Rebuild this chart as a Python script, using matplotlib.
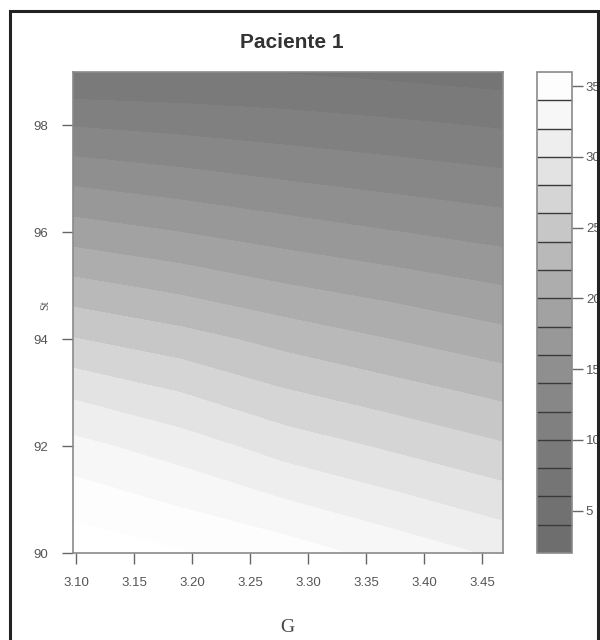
import numpy as np
import matplotlib
matplotlib.use("Agg")
import matplotlib.pyplot as plt
from matplotlib.patches import Rectangle

# ---- data ----
title = "Paciente 1"
x_label = "G"
y_label = "St"
g_values = [3.097, 3.19, 3.28, 3.37, 3.468]          # G (x) grid
st_values = [90, 91, 92, 93, 94, 95, 96, 97, 98, 99]  # St (y) grid
# z[row = St][col = G]
z_values = [
    [37.4, 36.2, 35.0, 33.3, 31.6],   # 90
    [35.1, 33.6, 32.0, 30.5, 28.9],   # 91
    [32.6, 31.0, 29.1, 27.7, 26.2],   # 92
    [29.6, 28.0, 26.2, 24.9, 23.5],   # 93
    [26.1, 24.8, 23.3, 22.0, 20.7],   # 94
    [22.6, 21.4, 20.1, 19.1, 18.0],   # 95
    [19.0, 18.0, 17.0, 16.1, 15.2],   # 96
    [15.5, 14.7, 13.9, 13.2, 12.5],   # 97
    [11.9, 11.4, 10.9, 10.4,  9.8],   # 98
    [ 8.0,  8.0,  7.9,  7.5,  7.0],   # 99
]
levels = list(range(2, 37, 2))
x_ticks = [3.10, 3.15, 3.20, 3.25, 3.30, 3.35, 3.40, 3.45]
y_ticks = [90, 92, 94, 96, 98]
cbar_ticks = [5, 10, 15, 20, 25, 30, 35]
band_colors = ["#6e6e6e", "#717171", "#757575", "#7a7a7a", "#808080", "#878787",
               "#8f8f8f", "#989898", "#a2a2a2", "#adadad", "#b9b9b9", "#c7c7c7",
               "#d5d5d5", "#e3e3e3", "#eeeeee", "#f7f7f7", "#fdfdfd"]

# ---- figure ----
W, H = 600, 640
fig = plt.figure(figsize=(W / 100, H / 100), dpi=100)
fig.patch.set_facecolor("white")

def frac(l, t, r, b):
    return [l / W, 1 - b / H, (r - l) / W, (b - t) / H]

ax = fig.add_axes(frac(73, 72, 503, 553))
X, Y = np.meshgrid(g_values, st_values)
cs = ax.contourf(X, Y, np.array(z_values), levels=levels, colors=band_colors)
ax.set_xlim(g_values[0], g_values[-1])
ax.set_ylim(st_values[0], st_values[-1])

tick_col = "#555555"
ax.set_xticks(x_ticks)
ax.set_xticklabels([f"{v:.2f}" for v in x_ticks])
ax.set_yticks(y_ticks)
ax.set_yticklabels([str(v) for v in y_ticks])
ax.tick_params(axis="both", direction="out", length=8, width=1, color="#666666",
               labelcolor=tick_col, labelsize=9.5)
ax.tick_params(axis="x", pad=9)
ax.tick_params(axis="y", pad=10)
for lab in ax.get_xticklabels() + ax.get_yticklabels():
    lab.set_family("Liberation Sans")
for sp in ax.spines.values():
    sp.set_color("#8a8a8a")
    sp.set_linewidth(1.2)

fig.text(292 / W, 1 - 43 / H, title, ha="center", va="center", fontsize=15,
         fontweight="bold", family="Liberation Sans", color="#333333")
fig.text(287 / W, 1 - 627 / H, x_label, ha="center", va="center", fontsize=14,
         family="Liberation Serif", color="#444444")
fig.text(45 / W, 1 - 305 / H, y_label, ha="center", va="center", fontsize=8.5,
         rotation=90, family="Liberation Serif", color="#555555")

# ---- colour key ----
cax = fig.add_axes(frac(537, 72, 572, 553))
cb = fig.colorbar(cs, cax=cax, drawedges=True)
cb.set_ticks(cbar_ticks)
cb.dividers.set_color("#3a3a3a")
cb.dividers.set_linewidth(1.0)
cb.outline.set_edgecolor("#8a8a8a")
cb.outline.set_linewidth(1.2)
cax.tick_params(direction="out", length=8, width=1, color="#666666",
                labelcolor=tick_col, labelsize=9.5, pad=2)
for lab in cax.get_yticklabels():
    lab.set_family("Liberation Sans")

# outer frame
fig.add_artist(Rectangle((10 / W, -0.05), (598 - 10) / W, (H - 11) / H + 0.05,
                         transform=fig.transFigure, fill=False, lw=2.2,
                         ec="#222222", clip_on=False))

fig.savefig("out.png", dpi=100, facecolor="white")
